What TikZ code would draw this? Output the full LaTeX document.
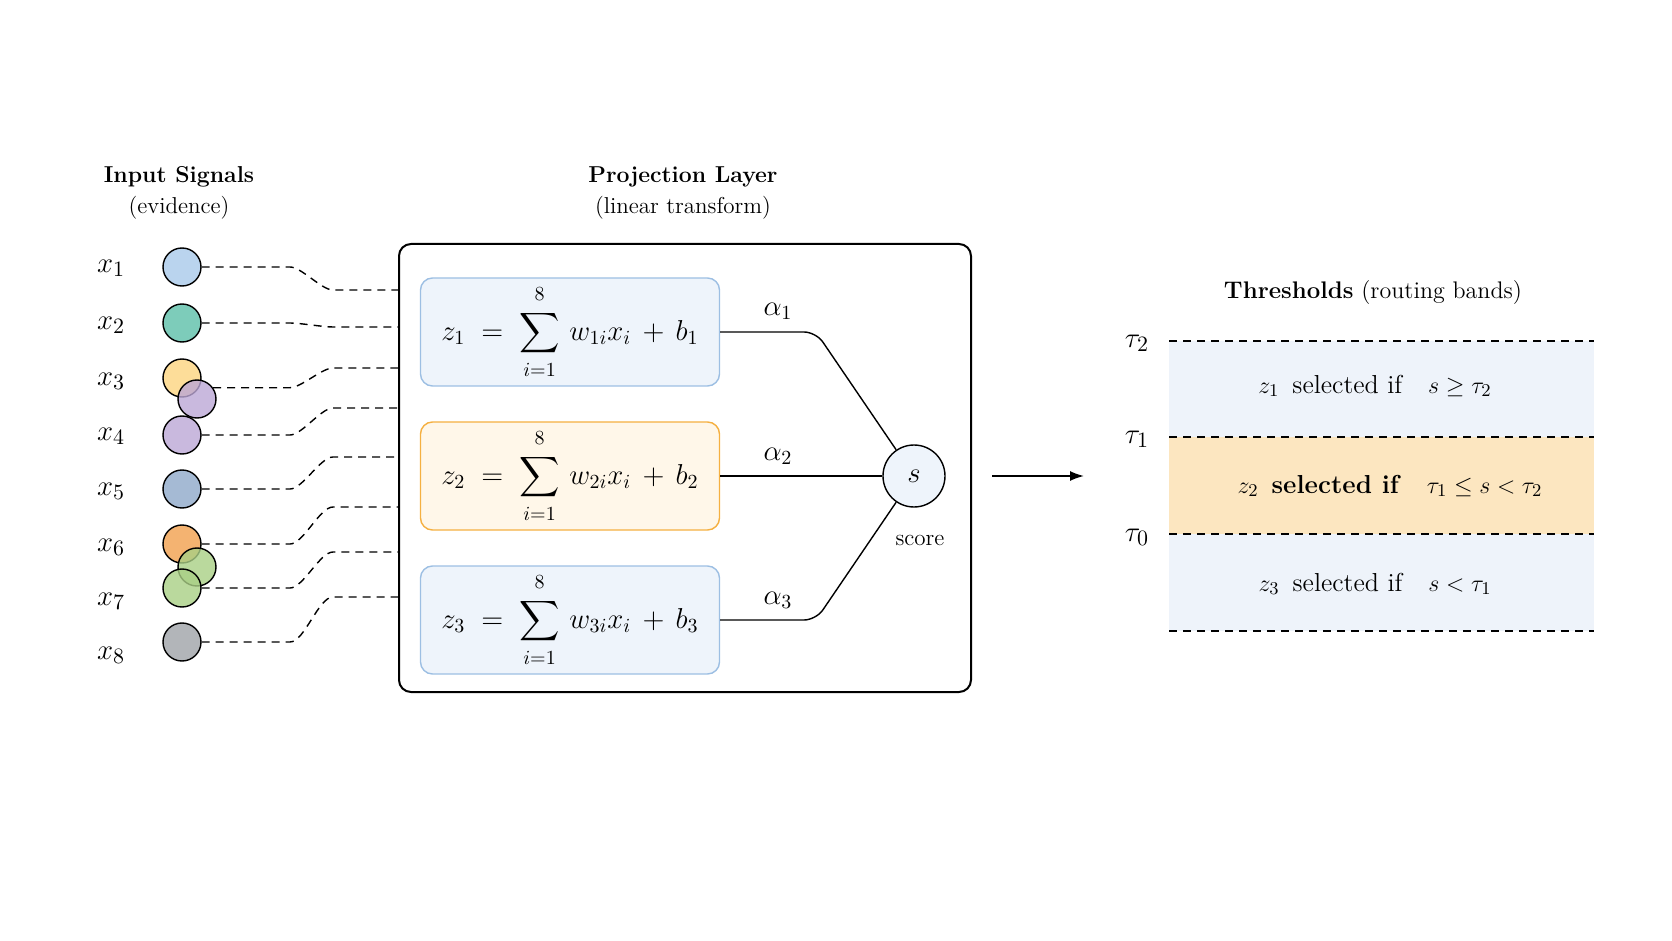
\documentclass[tikz,border=0pt]{standalone}
\usepackage{amsmath,amssymb}
\usepackage{xcolor}
\usepackage{tikz}
\usetikzlibrary{arrows.meta,positioning}

\definecolor{sigblue}{HTML}{A9C9EA}
\definecolor{sigteal}{HTML}{5DBFA9}
\definecolor{sigyellow}{HTML}{FDD480}
\definecolor{sigpurple}{HTML}{BCA7D6}
\definecolor{sigsteel}{HTML}{8EA9C9}
\definecolor{sigorange}{HTML}{F1A04E}
\definecolor{siggreen}{HTML}{A9CF85}
\definecolor{siggray}{HTML}{9FA3A7}
\definecolor{zblue}{HTML}{EEF4FB}
\definecolor{zblueline}{HTML}{9DBFE3}
\definecolor{zorange}{HTML}{FFF7E9}
\definecolor{zorangeline}{HTML}{F5B041}
\definecolor{bandblue}{HTML}{EEF3FA}
\definecolor{bandorange}{HTML}{FCE6C0}

\newcommand{\projsum}[1]{z_{#1} \;=\; \displaystyle\sum_{\raisebox{-2pt}{$\scriptstyle i=1$}}^{\raisebox{2pt}{$\scriptstyle 8$}}\, w_{#1i}x_i \,+\, b_{#1}}

\tikzset{
  head/.style={align=center, font=\fontsize{11.5}{15.5}\selectfont},
  xlab/.style={font=\fontsize{15}{17}\selectfont},
  sig/.style={circle, draw=black, line width=0.7pt, minimum size=19pt, inner sep=0pt, fill opacity=0.8, draw opacity=1},
  wire/.style={line width=0.7pt, dash pattern=on 4pt off 3pt},
  zbox/.style={rounded corners=6pt, line width=0.7pt, minimum width=149.5pt, minimum height=54pt, font=\fontsize{14}{16}\selectfont},
  link/.style={line width=0.7pt, rounded corners=6pt},
  thr/.style={line width=0.7pt, dash pattern=on 4pt off 3pt},
  bandtext/.style={font=\fontsize{13}{15}\selectfont}
}

\begin{document}
\begin{tikzpicture}[x=0.5pt,y=-0.5pt]
\useasboundingbox (0,0) rectangle (1672,941);

\node[head] (inhead) at (179,193) {\textbf{Input Signals}\\(evidence)};
\node[head] (projhead) at (683,193) {\textbf{Projection Layer}\\(linear transform)};
\node[head, font=\fontsize{12}{14}\selectfont] (thrhead) at (1373,293) {\textbf{Thresholds} (routing bands)};

\foreach \i/\y in {1/268,2/325,3/381,4/436,5/491,6/547,7/601,8/655}
  \node[xlab] (l\i) at (111,\y) {$x_{\i}$};

\node[sig, fill=sigblue] (c1) at (182,267) {};
\node[sig, fill=sigteal] (c2) at (182,323) {};
\node[sig, fill=sigyellow] (c3) at (182,378) {};
\node[sig, fill=sigpurple] (c3b) at (197,399) {};
\node[sig, fill=sigpurple] (c4) at (182,435) {};
\node[sig, fill=sigsteel] (c5) at (182,489) {};
\node[sig, fill=sigorange] (c6) at (182,544) {};
\node[sig, fill=siggreen] (c6b) at (197,567) {};
\node[sig, fill=siggreen] (c7) at (182,588) {};
\node[sig, fill=siggray] (c8) at (182,642) {};

\draw[line width=1pt, rounded corners=6pt] (399,244) rectangle (971,692);

\foreach \i/\y in {1/290,2/327,3/368,4/408,5/457,6/507,7/552,8/597}
  \coordinate (p\i) at (399,\y);
\coordinate (bendL) at (290,0);
\coordinate (bendR) at (333,0);
\foreach \s/\i in {c1.east/1,c2.east/2,c3b.35/3,c4.east/4,c5.east/5,c6.east/6,c7.east/7,c8.east/8}
  \draw[wire] (\s) -- (\s -| bendL) to[out=0,in=180,looseness=0.6] (p\i -| bendR) -- (p\i);

\node[zbox, fill=zblue, draw=zblueline] (z1) at (570,332) {$\projsum{1}$};
\node[zbox, fill=zorange, draw=zorangeline] (z2) at (570,476) {$\projsum{2}$};
\node[zbox, fill=zblue, draw=zblueline] (z3) at (570,620) {$\projsum{3}$};

\node[circle, draw=black, line width=0.7pt, fill=zblue, minimum size=31pt, inner sep=0pt, font=\fontsize{15}{17}\selectfont] (s) at (914,476) {$s$};
\node[font=\fontsize{11.5}{14}\selectfont] (scorelab) at (920,540) {score};

\coordinate (k1) at (816,332);
\coordinate (k3) at (816,620);
\draw[link] (z1.east) -- (k1) -- (s);
\draw[link] (z2.east) -- (s);
\draw[link] (z3.east) -- (k3) -- (s);
\node[xlab, font=\fontsize{14}{16}\selectfont] (a1) at (778,311) {$\alpha_1$};
\node[xlab, font=\fontsize{14}{16}\selectfont] (a2) at (778,456) {$\alpha_2$};
\node[xlab, font=\fontsize{14}{16}\selectfont] (a3) at (778,600) {$\alpha_3$};

\coordinate (arrS) at (992,476);
\coordinate (arrE) at (1084,476);
\draw[line width=0.8pt, -{Latex[length=7pt,width=5pt]}] (arrS) -- (arrE);

\fill[bandblue] (1169,341) rectangle (1594,437);
\fill[bandorange] (1169,437) rectangle (1594,534);
\fill[bandblue] (1169,534) rectangle (1594,631);
\foreach \y in {341,437,534,631}
  \draw[thr] (1169,\y) -- (1594,\y);

\node[xlab] (t2) at (1137,343) {$\tau_2$};
\node[xlab] (t1) at (1137,439) {$\tau_1$};
\node[xlab] (t0) at (1137,537) {$\tau_0$};

\node[bandtext] (r1) at (1375,386) {$z_1$\enspace selected if\quad $s \geq \tau_2$};
\node[bandtext] (r2) at (1390,486) {$z_2$\enspace\textbf{selected if}\quad $\tau_1 \leq s < \tau_2$};
\node[bandtext] (r3) at (1375,584) {$z_3$\enspace selected if\quad $s < \tau_1$};
\end{tikzpicture}
\end{document}
